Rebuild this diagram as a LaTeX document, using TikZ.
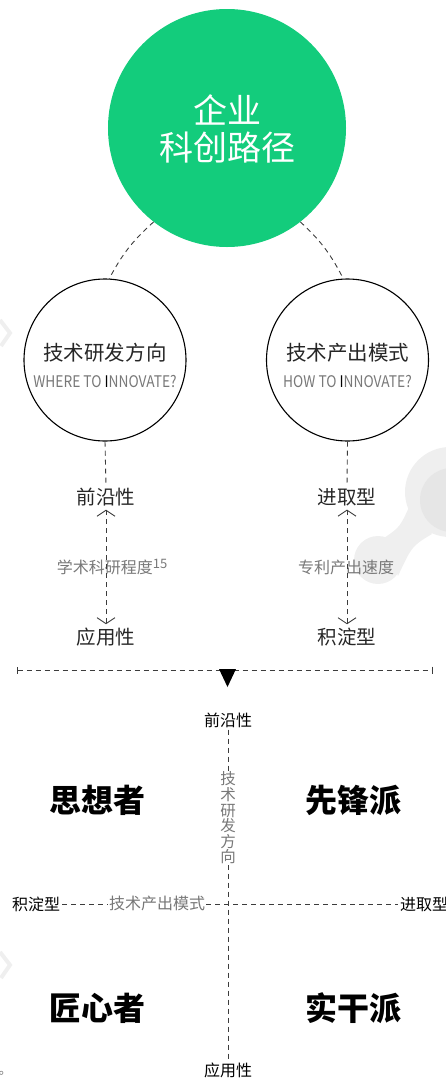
\documentclass[tikz,border=0pt]{standalone}
\usepackage{fontspec}
\newfontfamily\cjk{Noto Sans CJK SC}
\usetikzlibrary{arrows.meta,shapes.geometric}
\definecolor{kgreen}{RGB}{19,204,124}
\definecolor{kgray}{RGB}{120,120,120}
\definecolor{kline}{RGB}{60,60,60}
\definecolor{wm}{RGB}{239,239,239}
\definecolor{wmd}{RGB}{230,230,230}
\tikzset{
  dline/.style={draw=kline, line width=0.9bp, dash pattern=on 5bp off 4bp},
  ringnode/.style={circle, draw=black, line width=1.1bp, minimum size=162bp, inner sep=0pt},
  cjktitle/.style={font=\cjk\fontsize{20.5bp}{24bp}\selectfont, text=black!85},
  engsub/.style={font=\cjk\fontsize{16bp}{18bp}\selectfont, text=kgray},
  pole/.style={font=\cjk\fontsize{19.5bp}{22bp}\selectfont, text=black!85, inner sep=1.5bp},
  axislab/.style={font=\cjk\fontsize{16bp}{18bp}\selectfont, text=kgray, inner sep=1bp},
  qpole/.style={font=\cjk\fontsize{16bp}{18bp}\selectfont, text=black, inner sep=2bp},
  quad/.style={font=\cjk\bfseries\fontsize{32bp}{36bp}\selectfont, text=black},
  barb/.style={{Straight Barb[length=6bp,width=18bp]}-{Straight Barb[length=6bp,width=18bp]}}
}
\begin{document}
\begin{tikzpicture}[x=1bp,y=1bp]
\useasboundingbox (0,0) rectangle (446,-1079);
\clip (0,0) rectangle (446,-1079);
% background watermark shapes
\fill[wm] (450,-492) circle (45);
\fill[wm] (378,-560) circle (24);
\fill[wm] (384,-538) .. controls (400,-527) .. (410,-505) -- (432,-534) .. controls (412,-546) .. (398,-576) -- cycle;
\fill[wmd] (452,-500) circle (32);
\draw[wm, line width=4bp] (0,-320) -- (10,-333) -- (1,-346);
\draw[wm, line width=4bp] (0,-952) -- (10,-965) -- (1,-978);
\node[font=\cjk\fontsize{13bp}{15bp}\selectfont, text=kgray, anchor=east, inner sep=0pt] (frag) at (12,-1070) {间。};

% top circle
\node[circle, fill=kgreen, minimum size=238bp, inner sep=0pt] (G) at (227,-128) {};
\node[font=\cjk\fontsize{34bp}{37bp}\selectfont, text=white, align=center] (Gt) at (227,-129) {企业\\科创路径};

% two circles
\node[ringnode] (L) at (105,-360) {};
\node[ringnode] (R) at (347.5,-360) {};
\node[cjktitle] (Lt) at (105,-353) {技术研发方向};
\node[cjktitle] (Rt) at (347.5,-353) {技术产出模式};
\node[engsub] (Le) at (105,-382) {\scalebox{0.86}[1]{WHERE TO {\color{black}I}NNOVATE?}};
\node[engsub] (Re) at (347.5,-382) {\scalebox{0.86}[1]{HOW TO {\color{black}I}NNOVATE?}};

\draw[dline] (G.232) to[bend right=10] (L.87);
\draw[dline] (G.308) to[bend left=10] (R.93);

% left column
\node[pole] (lf) at (106,-497) {前沿性};
\node[pole] (la) at (106,-637) {应用性};
\node[axislab] (ll) at (112,-567) {学术科研程度\raisebox{0.5ex}{\fontsize{13bp}{14bp}\selectfont 15}};
\draw[dline] (L.south) -- (lf.north);
\draw[dline, barb, shorten <=2bp, shorten >=2bp] (la.north) -- (lf.south);

% right column
\node[pole] (rf) at (347,-497) {进取型};
\node[pole] (ra) at (347,-637) {积淀型};
\node[axislab] (rl) at (346,-567) {专利产出速度};
\draw[dline] (R.south) -- (rf.north);
\draw[dline, barb, shorten <=2bp, shorten >=2bp] (ra.north) -- (rf.south);

% divider
\coordinate (dl) at (17,-670);
\coordinate (dr) at (433,-670);
\draw[dline, {Bar[width=7bp]}-{Bar[width=7bp]}] (dl) -- (dr);
\fill[black] (219,-669) -- (236,-669) -- (227.5,-687) -- cycle;

% quadrant
\node[qpole] (qf) at (228,-720) {前沿性};
\node[qpole] (qa) at (228,-1070) {应用性};
\node[qpole] (qj) at (36,-904) {积淀型};
\node[qpole, anchor=west] (qp) at (398,-904) {进取型};
\coordinate (qc) at (228,-905);
\draw[dline] (qf.south) -- (qa.north);
\draw[dline] (qj.east) -- (qp.west);
\node[font=\cjk\fontsize{15.5bp}{15.6bp}\selectfont, text=kgray, fill=white, align=center, inner sep=1bp] (vlab) at (228,-818) {技\\术\\研\\发\\方\\向};
\node[font=\cjk\fontsize{16bp}{18bp}\selectfont, text=kgray, fill=white, inner sep=1bp] (hlab) at (157,-903) {技术产出模式};

\node[quad] (q1) at (97,-800) {思想者};
\node[quad] (q2) at (353,-800) {先锋派};
\node[quad] (q3) at (97,-1008) {匠心者};
\node[quad] (q4) at (353,-1008) {实干派};
\end{tikzpicture}
\end{document}
